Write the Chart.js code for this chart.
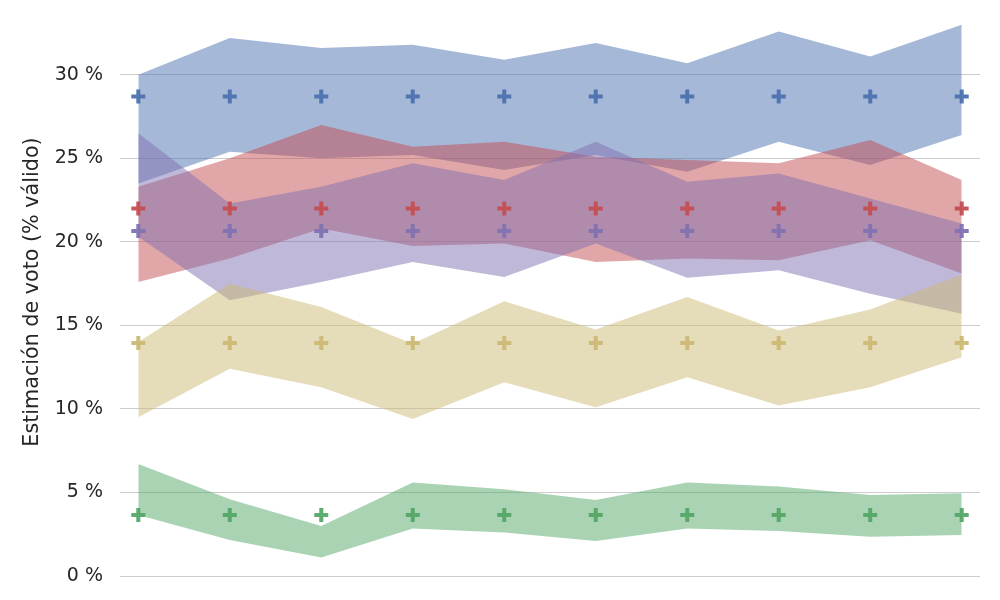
<!DOCTYPE html>
<html>
<head>
<meta charset="utf-8">
<script src="https://cdn.jsdelivr.net/npm/chart.js@4/dist/chart.umd.min.js"></script>
<style>
  html, body { margin: 0; padding: 0; background: #fff; }
  #wrap { width: 1000px; height: 600px; }
</style>
</head>
<body>
<div id="wrap"><canvas id="chart1" width="1000" height="600"></canvas></div>
<script>
// posiciones de las encuestas (sin etiquetas en el eje x)
const positions = [0, 1, 2, 3, 4, 5, 6, 7, 8, 9];

// estimación central de cada partido (cruces)
const blueMid   = [28.7, 28.7, 28.7, 28.7, 28.7, 28.7, 28.7, 28.7, 28.7, 28.7];
const redMid    = [22.0, 22.0, 22.0, 22.0, 22.0, 22.0, 22.0, 22.0, 22.0, 22.0];
const purpleMid = [20.65, 20.65, 20.65, 20.65, 20.65, 20.65, 20.65, 20.65, 20.65, 20.65];
const yellowMid = [13.95, 13.95, 13.95, 13.95, 13.95, 13.95, 13.95, 13.95, 13.95, 13.95];
const greenMid  = [3.65, 3.65, 3.65, 3.65, 3.65, 3.65, 3.65, 3.65, 3.65, 3.65];

// intervalos (límite superior / inferior)
const blueHigh   = [30.0, 32.2, 31.6, 31.8, 30.9, 31.9, 30.7, 32.6, 31.1, 33.0];
const blueLow    = [23.5, 25.4, 25.0, 25.2, 24.3, 25.2, 24.2, 26.0, 24.6, 26.4];
const redHigh    = [23.3, 25.0, 27.0, 25.7, 26.0, 25.1, 24.9, 24.7, 26.1, 23.7];
const redLow     = [17.6, 19.0, 20.8, 19.75, 19.9, 18.8, 19.0, 18.9, 20.1, 18.1];
const purpleHigh = [26.5, 22.3, 23.3, 24.7, 23.7, 26.0, 23.6, 24.1, 22.6, 21.1];
const purpleLow  = [20.3, 16.5, 17.6, 18.8, 17.9, 19.9, 17.85, 18.3, 16.9, 15.7];
const yellowHigh = [14.0, 17.5, 16.1, 13.9, 16.45, 14.75, 16.7, 14.7, 15.95, 18.05];
const yellowLow  = [9.5, 12.4, 11.3, 9.4, 11.6, 10.1, 11.9, 10.2, 11.3, 13.1];
const greenHigh  = [6.7, 4.6, 3.0, 5.6, 5.2, 4.55, 5.6, 5.35, 4.85, 4.95];
const greenLow   = [3.65, 2.15, 1.1, 2.85, 2.6, 2.1, 2.85, 2.7, 2.35, 2.45];

const yTicks = [0, 5, 10, 15, 20, 25, 30];

const toPts = (ys) => ys.map((y, i) => ({x: positions[i], y: y}));

const colors = {
  blue: "76,114,176",
  green: "85,168,104",
  red: "196,78,82",
  purple: "129,114,178",
  yellow: "204,185,116"
};

function band(high, low, rgb) {
  return [
    {data: toPts(high), borderWidth: 0, pointRadius: 0, fill: "+1",
     backgroundColor: "rgba(" + rgb + ",0.5)", tension: 0},
    {data: toPts(low), borderWidth: 0, pointRadius: 0, fill: false, tension: 0}
  ];
}

function marks(mid, rgb) {
  return {data: toPts(mid), showLine: false, pointStyle: "cross", pointRadius: 7,
    pointBorderWidth: 4, pointBorderColor: "rgba(" + rgb + ",0.95)", fill: false};
}

// chart.js dibuja el primer dataset encima: cruces primero, azul al fondo
const datasets = [
  marks(blueMid, colors.blue),
  marks(redMid, colors.red),
  marks(purpleMid, colors.purple),
  marks(yellowMid, colors.yellow),
  marks(greenMid, colors.green),
  ...band(yellowHigh, yellowLow, colors.yellow),
  ...band(purpleHigh, purpleLow, colors.purple),
  ...band(redHigh, redLow, colors.red),
  ...band(greenHigh, greenLow, colors.green),
  ...band(blueHigh, blueLow, colors.blue)
];

let ctx1 = document.getElementById("chart1").getContext("2d");
let chart1 = new Chart(ctx1, {
  type: "line",
  data: {datasets: datasets},
  options: {
    responsive: false,
    animation: false,
    layout: {autoPadding: false, padding: {left: 0, right: 20, top: 8, bottom: 24}},
    plugins: {legend: {display: false}, tooltip: {enabled: false}},
    scales: {
      x: {type: "linear", min: -0.2, max: 9.2, display: false},
      y: {
        min: 0, max: 34,
        afterFit: (s) => { s.width = 120; s.paddingTop = 0; s.paddingBottom = 0; },
        afterBuildTicks: (s) => { s.ticks = yTicks.map(v => ({value: v})); },
        ticks: {
          callback: (v) => v + " %",
          color: "#262626",
          padding: 17,
          font: {family: "DejaVu Sans, sans-serif", size: 19}
        },
        grid: {color: "#cccccc", lineWidth: 1, drawTicks: false},
        border: {display: false},
        title: {
          display: true,
          text: "Estimación de voto (% válido)",
          color: "#262626",
          padding: {top: 20, bottom: 0},
          font: {family: "DejaVu Sans, sans-serif", size: 20.7}
        }
      }
    }
  }
});
</script>
</body>
</html>
